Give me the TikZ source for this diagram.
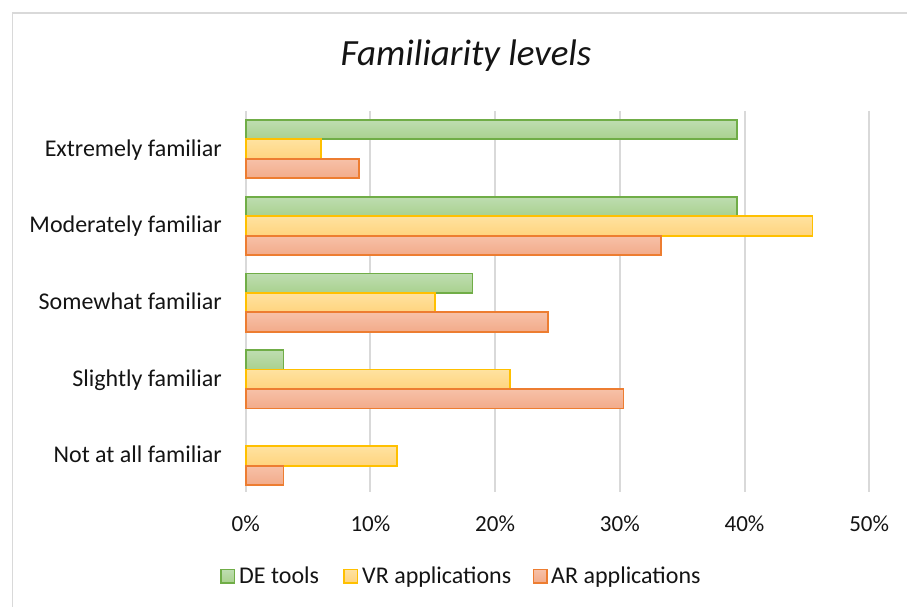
\documentclass[tikz,border=0pt]{standalone}
\usepackage{fontspec}
\setmainfont{Carlito}
\definecolor{gridgray}{HTML}{D9D9D9}
\definecolor{txt}{HTML}{141414}
\definecolor{degreen}{HTML}{70AD47}
\definecolor{detop}{HTML}{BEDDB1}
\definecolor{debot}{HTML}{A9D18E}
\definecolor{vryel}{HTML}{FFC000}
\definecolor{vrtop}{HTML}{FFE2A0}
\definecolor{vrbot}{HTML}{FFD47E}
\definecolor{arora}{HTML}{ED7D31}
\definecolor{artop}{HTML}{F7C1A8}
\definecolor{arbot}{HTML}{F2AB8A}
\begin{document}
\begin{tikzpicture}[x=1pt,y=-1pt,
  grid/.style={draw=gridgray,line width=2pt},
  lbl/.style={font=\fontsize{24}{29}\selectfont,text=txt,inner sep=0pt},
  debar/.style={draw=degreen,line width=1.8pt,top color=detop,bottom color=debot},
  vrbar/.style={draw=vryel,line width=1.8pt,top color=vrtop,bottom color=vrbot},
  arbar/.style={draw=arora,line width=1.8pt,top color=artop,bottom color=arbot}]
\useasboundingbox (0,0) rectangle (907,607);
\draw[draw=gridgray,line width=1.5pt] (12.5,640) -- (12.5,13) -- (940,13);
% title
\node[lbl,font=\fontsize{37}{44}\selectfont\itshape,anchor=base] (title) at (466,66) {Familiarity levels};
% gridlines and tick labels
\foreach \i in {0,...,5}{
  \draw[grid] (245.7+\i*124.7,111) -- (245.7+\i*124.7,492);
  \pgfmathtruncatemacro{\p}{\i*10}
  \node[lbl,font=\fontsize{23}{27}\selectfont,anchor=base] (tick\i) at (245.7+\i*124.7,531) {\p\%};
}
% bars
\def\xz{245.7}
\def\sc{12.47}
\foreach \de/\vr/\ar [count=\c from 0] in {39.39/6.06/9.09, 39.39/45.45/33.33, 18.18/15.15/24.24, 3.03/21.21/30.30, 0/12.12/3.03}{
  \pgfmathsetmacro{\yt}{120+76.7*\c}
  \ifdim\de pt>0pt
    \draw[debar] (\xz,\yt) rectangle (\xz+\de*\sc,\yt+19.4);
  \fi
  \draw[vrbar] (\xz,\yt+19.4) rectangle (\xz+\vr*\sc,\yt+38.9);
  \draw[arbar] (\xz,\yt+38.9) rectangle (\xz+\ar*\sc,\yt+58.3);
}
% category labels
\foreach \t [count=\c from 0] in {Extremely familiar,Moderately familiar,Somewhat familiar,Slightly familiar,Not at all familiar}{
  \node[lbl,anchor=base east] (cat\c) at (222,156+76.7*\c) {\t};
}
% legend
\draw[debar,line width=1.5pt] (221,569.5) rectangle (234.5,583);
\node[lbl,anchor=base west] (legde) at (239,583) {DE tools};
\draw[vrbar,line width=1.5pt] (344,569.5) rectangle (357.5,583);
\node[lbl,anchor=base west] (legvr) at (362,583) {VR applications};
\draw[arbar,line width=1.5pt] (533.5,569.5) rectangle (547,583);
\node[lbl,anchor=base west] (legar) at (551,583) {AR applications};
\end{tikzpicture}
\end{document}
